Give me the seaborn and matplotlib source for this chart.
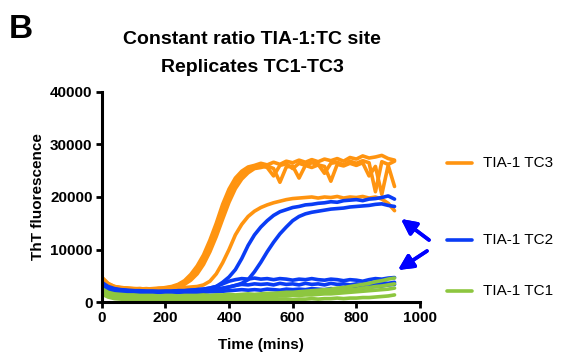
import numpy as np
import pandas as pd
import matplotlib
matplotlib.use("Agg")
import matplotlib.pyplot as plt
from matplotlib.lines import Line2D
import seaborn as sns

# sampling times (mins)
minutes = list(range(0, 921, 20))

# ThT fluorescence, in thousands
tc3_a = [4.8, 3.6, 3.0, 2.8, 2.7, 2.6, 2.5, 2.6, 2.5, 2.6, 2.8, 3.0, 3.4, 4.1, 5.3, 6.9, 9.0, 11.8, 15.0, 18.6,
         21.5, 23.6, 24.9, 25.7, 26.0, 26.4, 26.1, 26.6, 26.2, 26.8, 26.5, 27.0, 26.6, 27.1, 26.7, 27.2, 26.9,
         27.3, 26.8, 27.5, 27.2, 27.8, 27.4, 27.6, 27.9, 27.3, 27.0]
tc3_b = [4.5, 3.4, 2.9, 2.7, 2.6, 2.5, 2.6, 2.5, 2.6, 2.7, 2.7, 2.9, 3.2, 3.8, 4.8, 6.2, 8.1, 10.6, 13.6, 17.2,
         20.3, 22.7, 24.2, 25.3, 25.8, 26.0, 25.6, 24.0, 26.0, 26.3, 25.4, 26.4, 26.0, 26.5, 26.2, 24.5, 26.4,
         26.6, 26.1, 26.8, 26.4, 26.9, 26.5, 21.0, 26.7, 26.2, 26.8]
tc3_c = [4.2, 3.2, 2.8, 2.6, 2.5, 2.4, 2.5, 2.4, 2.5, 2.5, 2.6, 2.7, 2.9, 3.4, 4.2, 5.4, 7.2, 9.6, 12.5, 15.8,
         19.0, 21.6, 23.4, 24.6, 25.4, 25.6, 25.9, 25.4, 22.8, 25.7, 25.9, 23.6, 26.0, 25.6, 26.1, 25.8, 23.0,
         26.2, 25.9, 26.4, 26.0, 26.5, 24.0, 25.8, 20.5, 26.0, 22.0]
tc3_d = [4.6, 3.5, 3.0, 2.8, 2.7, 2.6, 2.6, 2.5, 2.5, 2.6, 2.6, 2.6, 2.7, 2.8, 2.9, 3.0, 3.3, 4.0, 5.4, 7.5,
         10.0, 12.8, 14.8, 16.3, 17.3, 18.0, 18.5, 18.9, 19.2, 19.5, 19.7, 19.8, 19.9, 20.0, 19.8, 20.0, 19.9,
         20.1, 19.8, 20.0, 19.9, 20.1, 19.8, 20.0, 19.6, 18.8, 17.4]

tc2_a = [3.6, 2.8, 2.5, 2.3, 2.2, 2.2, 2.1, 2.1, 2.1, 2.0, 2.1, 2.1, 2.2, 2.2, 2.3, 2.4, 2.5, 2.7, 3.0, 3.8,
         4.8, 6.2, 8.3, 10.8, 12.8, 14.3, 15.5, 16.5, 17.2, 17.6, 18.0, 18.2, 18.5, 18.6, 18.8, 18.9, 19.1,
         19.0, 19.3, 19.4, 19.5, 19.3, 19.6, 19.7, 19.9, 20.2, 19.6]
tc2_b = [3.3, 2.6, 2.3, 2.2, 2.1, 2.0, 2.0, 2.0, 1.9, 2.0, 2.0, 2.0, 2.1, 2.1, 2.2, 2.2, 2.3, 2.4, 2.5, 2.7,
         2.9, 3.2, 3.6, 4.3, 5.8, 7.6, 9.6, 11.4, 13.0, 14.3, 15.5, 16.3, 16.8, 17.1, 17.3, 17.5, 17.7,
         17.8, 17.9, 18.1, 18.2, 18.3, 18.4, 18.6, 18.7, 18.4, 18.2]
tc2_c = [3.8, 3.0, 2.6, 2.4, 2.3, 2.2, 2.2, 2.1, 2.1, 2.1, 2.1, 2.1, 2.2, 2.2, 2.3, 2.4, 2.5, 2.7, 3.0, 3.5,
         4.0, 4.3, 4.5, 4.4, 4.6, 4.4, 4.5, 4.3, 4.5, 4.4, 4.2, 4.4, 4.3, 4.5, 4.3, 4.2, 4.4,
         4.3, 4.1, 4.3, 4.2, 4.0, 4.3, 4.5, 4.4, 4.6, 4.7]
tc2_d = [3.5, 2.8, 2.4, 2.3, 2.2, 2.1, 2.1, 2.0, 2.0, 2.0, 2.0, 2.0, 2.1, 2.1, 2.1, 2.2, 2.2, 2.3, 2.4, 2.6,
         2.9, 3.2, 3.4, 3.3, 3.5, 3.4, 3.5, 3.3, 3.6, 3.4, 3.5, 3.3, 3.6, 3.4, 3.5, 3.3, 3.6,
         3.4, 3.5, 3.3, 3.5, 3.4, 3.6, 3.5, 3.7, 3.6, 3.8]
tc2_e = [3.0, 2.4, 2.1, 2.0, 1.9, 1.9, 1.8, 1.8, 1.8, 1.8, 1.8, 1.8, 1.8, 1.9, 1.9, 1.9, 1.9, 2.0, 2.0, 2.1,
         2.2, 2.3, 2.4, 2.3, 2.4, 2.3, 2.5, 2.4, 2.3, 2.5, 2.4, 2.5, 2.4, 2.6, 2.5, 2.4, 2.6,
         2.5, 2.7, 2.6, 2.8, 2.7, 2.9, 3.0, 3.1, 3.3, 3.4]

tc1_a = [2.6, 1.9, 1.6, 1.5, 1.4, 1.4, 1.3, 1.3, 1.3, 1.2, 1.3, 1.3, 1.2, 1.3, 1.3, 1.3, 1.4, 1.3, 1.4, 1.4,
         1.5, 1.4, 1.5, 1.6, 1.5, 1.6, 1.7, 1.7, 1.8, 1.9, 1.9, 2.0, 2.1, 2.2, 2.3, 2.4, 2.5,
         2.7, 2.8, 3.0, 3.2, 3.4, 3.6, 3.9, 4.1, 4.4, 4.6]
tc1_b = [2.3, 1.6, 1.3, 1.2, 1.1, 1.1, 1.0, 1.1, 1.0, 1.0, 1.0, 1.1, 1.0, 1.0, 1.1, 1.0, 1.1, 1.1, 1.1, 1.2,
         1.1, 1.2, 1.2, 1.3, 1.3, 1.4, 1.4, 1.5, 1.5, 1.6, 1.7, 1.7, 1.8, 1.9, 2.0, 2.0, 2.1,
         2.2, 2.3, 2.4, 2.5, 2.7, 2.8, 3.0, 3.1, 3.3, 3.5]
tc1_c = [2.0, 1.3, 1.0, 0.9, 0.8, 0.8, 0.8, 0.7, 0.8, 0.7, 0.8, 0.7, 0.8, 0.8, 0.7, 0.8, 0.8, 0.8, 0.9, 0.8,
         0.9, 0.9, 0.9, 1.0, 1.0, 1.0, 1.1, 1.1, 1.2, 1.2, 1.3, 1.3, 1.4, 1.4, 1.5, 1.6, 1.6,
         1.7, 1.8, 1.9, 2.0, 2.1, 2.2, 2.3, 2.4, 2.5, 2.7]
tc1_d = [1.6, 1.0, 0.7, 0.6, 0.5, 0.5, 0.5, 0.4, 0.5, 0.4, 0.5, 0.4, 0.5, 0.4, 0.5, 0.4, 0.5, 0.5, 0.4, 0.5,
         0.5, 0.4, 0.5, 0.5, 0.6, 0.5, 0.6, 0.5, 0.6, 0.6, 0.5, 0.6, 0.6, 0.7, 0.6, 0.7, 0.7,
         0.8, 0.7, 0.8, 0.8, 0.9, 0.9, 1.0, 1.1, 1.2, 1.4]

series = {
    "TIA-1 TC3": [tc3_a, tc3_b, tc3_c, tc3_d],
    "TIA-1 TC2": [tc2_a, tc2_b, tc2_c, tc2_d, tc2_e],
    "TIA-1 TC1": [tc1_a, tc1_b, tc1_c, tc1_d],
}
colors = {"TIA-1 TC3": "#FF9410", "TIA-1 TC2": "#0A3CF5", "TIA-1 TC1": "#8DC63F"}

rows = []
for cond, reps in series.items():
    for i, vals in enumerate(reps):
        for t, v in zip(minutes, vals):
            rows.append({"cond": cond, "rep": i, "time": t, "tht": v * 1000})
df = pd.DataFrame(rows)

sns.set_style("ticks")
plt.rcParams["font.family"] = ["Liberation Sans", "DejaVu Sans"]
plt.rcParams["text.color"] = "black"
plt.rcParams["axes.labelcolor"] = "black"
plt.rcParams["xtick.color"] = "black"
plt.rcParams["ytick.color"] = "black"

fig = plt.figure(figsize=(5.63, 3.60), dpi=100)
ax = fig.add_axes([0.1806, 0.1603, 0.5654, 0.585])

sns.lineplot(data=df, x="time", y="tht", hue="cond", units="rep", estimator=None,
             palette=colors, linewidth=2.6, legend=False, ax=ax)

ax.set_xlim(0, 1000)
ax.set_ylim(0, 40000)
ax.set_xticks([0, 200, 400, 600, 800, 1000])
ax.set_yticks([0, 10000, 20000, 30000, 40000])
ax.set_xlabel("Time (mins)", fontsize=11, fontweight="bold", labelpad=9)
ax.set_ylabel("ThT fluorescence", fontsize=11, fontweight="bold", labelpad=4)
for lab in ax.get_xticklabels() + ax.get_yticklabels():
    lab.set_fontweight("bold")
ax.tick_params(labelsize=11, width=2, length=4.5, color="black", pad=2)
for s in ["left", "bottom"]:
    ax.spines[s].set_linewidth(2.2)
    ax.spines[s].set_color("black")
sns.despine(ax=ax)

fig.text(0.448, 1 - 40 / 360, "Constant ratio TIA-1:TC site", ha="center", va="center",
         fontsize=14, fontweight="bold")
fig.text(0.448, 1 - 67 / 360, "Replicates TC1-TC3", ha="center", va="center",
         fontsize=14, fontweight="bold")
fig.text(0.016, 0.96, "B", ha="left", va="top", fontsize=24, fontweight="bold")

# legend drawn by hand to match spacing
for cond, ypx in [("TIA-1 TC3", 163), ("TIA-1 TC2", 240), ("TIA-1 TC1", 291)]:
    yf = 1 - ypx / 360
    fig.add_artist(Line2D([447 / 563, 472 / 563], [yf, yf], color=colors[cond], lw=2.6,
                          transform=fig.transFigure))
    fig.text(483 / 563, yf, cond, ha="left", va="center", fontsize=11)

# arrows pointing at the TC2 groups
for tail, head in [((429, 240), (401, 219)), ((427, 251), (398, 270))]:
    fig.add_artist(plt.annotate("", xy=(head[0] / 563, 1 - head[1] / 360),
                                xytext=(tail[0] / 563, 1 - tail[1] / 360),
                                xycoords="figure fraction", textcoords="figure fraction",
                                arrowprops=dict(arrowstyle="-|>,head_width=0.45,head_length=0.9",
                                                color="#0000FF", lw=2.6, shrinkA=0, shrinkB=0)))

fig.savefig("out.png", dpi=100)
